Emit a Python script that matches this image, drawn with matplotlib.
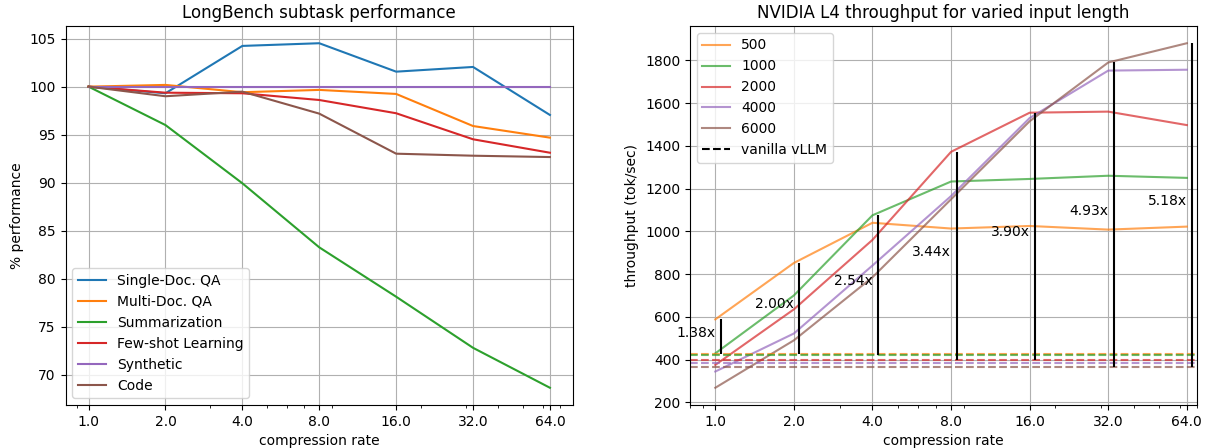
import matplotlib
matplotlib.use("Agg")
import matplotlib.pyplot as plt
import numpy as np

# ---------------- data ----------------
compression = [1, 2, 4, 8, 16, 32, 64]
tick_labels = ["1.0", "2.0", "4.0", "8.0", "16.0", "32.0", "64.0"]

single_doc_qa = [100.0, 99.31, 104.24, 104.52, 101.56, 102.05, 97.05]
multi_doc_qa = [100.0, 100.18, 99.42, 99.66, 99.24, 95.90, 94.69]
summarization = [100.0, 96.0, 89.94, 83.27, 78.13, 72.81, 68.65]
few_shot = [100.0, 99.37, 99.31, 98.61, 97.23, 94.52, 93.12]
synthetic = [100.0, 100.0, 100.0, 100.0, 100.0, 100.0, 100.0]
code = [100.0, 99.0, 99.48, 97.19, 93.02, 92.81, 92.67]
task_names = ["Single-Doc. QA", "Multi-Doc. QA", "Summarization",
              "Few-shot Learning", "Synthetic", "Code"]

input_lengths = ["500", "1000", "2000", "4000", "6000"]
tp_500 = [588, 852, 1040, 1013, 1025, 1008, 1022]
tp_1000 = [429, 700, 1075, 1233, 1245, 1260, 1250]
tp_2000 = [375, 635, 960, 1372, 1555, 1560, 1497]
tp_4000 = [344, 522, 840, 1165, 1530, 1752, 1756]
tp_6000 = [268, 490, 785, 1150, 1515, 1790, 1880]
vanilla = [426, 423, 399, 384, 363]
speedup_labels = ["1.38x", "2.00x", "2.54x", "3.44x", "3.90x", "4.93x", "5.18x"]

# ---------------- plot ----------------
W, H = 1207, 448
fig = plt.figure(figsize=(W / 100, H / 100), dpi=100)
ax1 = fig.add_axes([65.5 / W, 1 - 405 / H, (573 - 65.5) / W, (405 - 26) / H])
ax2 = fig.add_axes([690 / W, 1 - 405 / H, (1197 - 690) / W, (405 - 26) / H])

for vals, name in zip([single_doc_qa, multi_doc_qa, summarization, few_shot, synthetic, code], task_names):
    ax1.plot(compression, vals, label=name)
ax1.set_xscale("log")
ax1.set_xticks(compression)
ax1.set_xticklabels(tick_labels)
ax1.set_xlabel("compression rate")
ax1.set_ylabel("% performance")
ax1.set_title("LongBench subtask performance")
ax1.grid(True)
ax1.legend(loc="lower left")

colors = ["C1", "C2", "C3", "C4", "C5"]
series = [tp_500, tp_1000, tp_2000, tp_4000, tp_6000]
for vals, name, c in zip(series, input_lengths, colors):
    ax2.plot(compression, vals, label=name, color=c, alpha=0.7)
for base, c in zip(vanilla, colors):
    ax2.axhline(base, color=c, linestyle="--", alpha=0.7)
ax2.plot([], [], "k--", label="vanilla vLLM")

arr = np.array(series)
for i, x in enumerate(compression):
    j = int(np.argmax(arr[:, i]))
    top = arr[j, i]
    base = vanilla[j]
    ax2.vlines(x * 1.05, base, top, color="black")
    ax2.text(x, (base + top) / 2, speedup_labels[i], ha="right")

ax2.set_xscale("log")
ax2.set_xticks(compression)
ax2.set_xticklabels(tick_labels)
ax2.set_xlim(0.8, 70)
ax2.set_xlabel("compression rate")
ax2.set_ylabel("throughput (tok/sec)")
ax2.set_title("NVIDIA L4 throughput for varied input length")
ax2.grid(True)
ax2.legend(loc="upper left")

fig.savefig("out.png", dpi=100)
